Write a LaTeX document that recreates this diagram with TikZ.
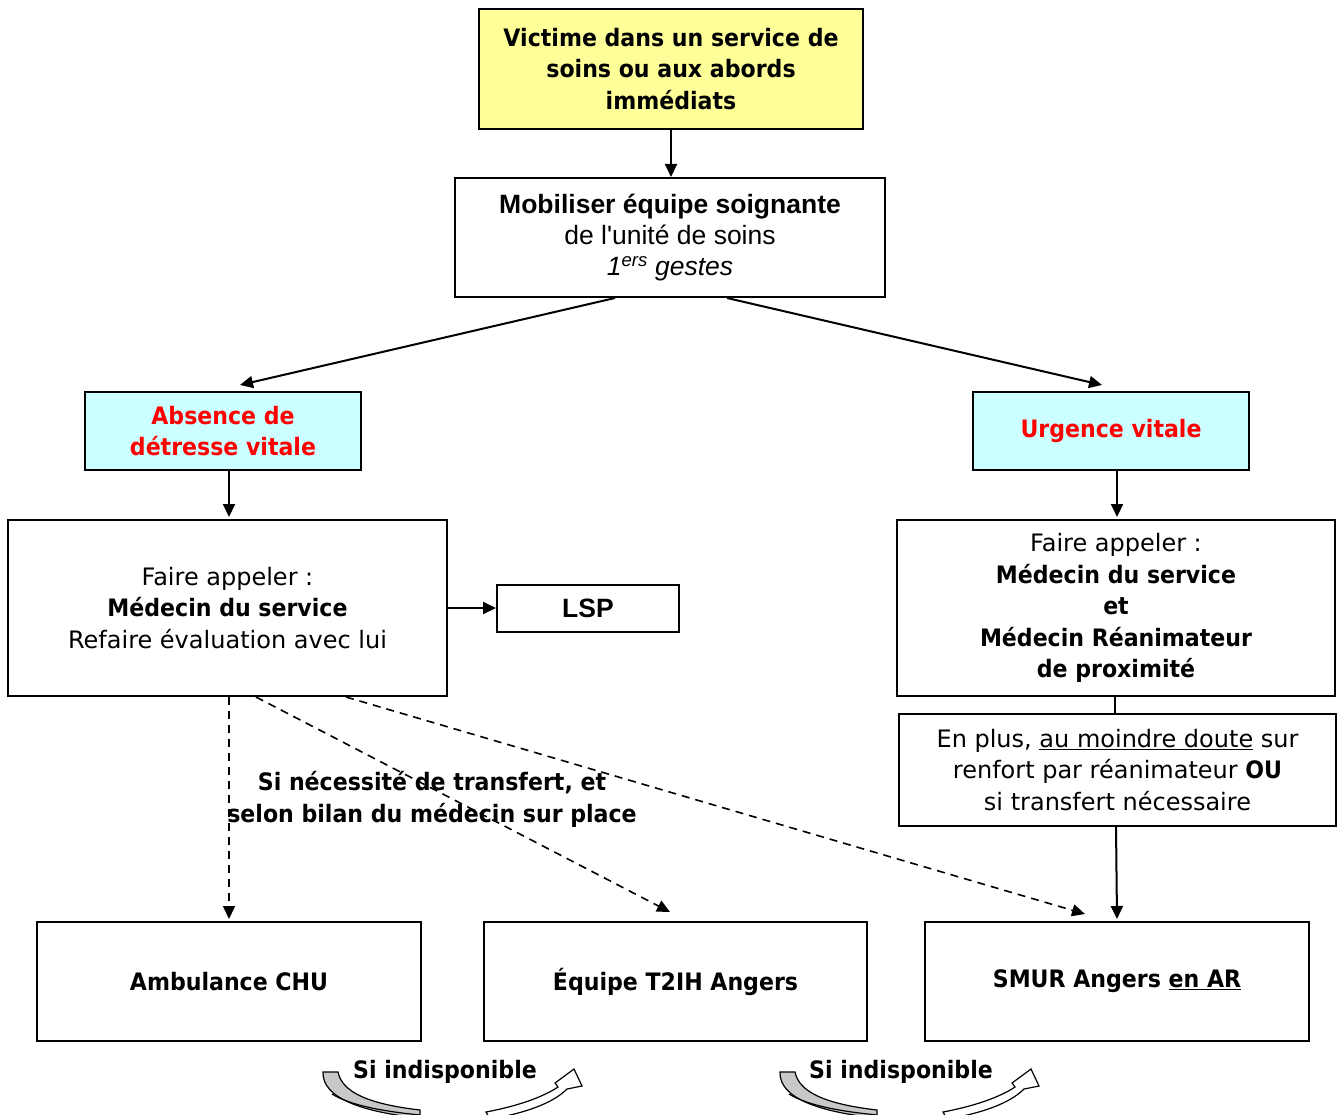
\documentclass[tikz,border=0pt]{standalone}
\usepackage{fontspec}
\setmainfont{DejaVu Sans}[BoldFeatures={FakeStretch=0.92}]
\newfontfamily\arialfont{Liberation Sans}
\usetikzlibrary{arrows.meta}

\definecolor{boxyellow}{HTML}{FFFF99}
\definecolor{boxcyan}{HTML}{CCFFFF}
\definecolor{bandgray}{HTML}{C8C8C8}
\newcommand{\txtfont}{\fontsize{24}{31.5}\selectfont}
\newcommand{\arfont}{\arialfont\fontsize{26.5}{31}\selectfont}

% curved "si indisponible" arrow, shifted by #1
\newcommand{\detourarrow}[1]{%
\begin{scope}[xshift=#1]
\filldraw[fill=bandgray,line width=1.2pt] (323,1072) -- (338,1072) .. controls (342,1092) and (368,1104) .. (420,1110) -- (420,1118) .. controls (362,1112) and (322,1098) .. (323,1072) -- cycle;
\draw[line width=1.2pt] (332,1094) .. controls (350,1105) and (380,1111) .. (420,1115);
\filldraw[fill=white,line width=1.2pt] (486,1112) .. controls (518,1106) and (543,1097) .. (558,1087) -- (555,1083) -- (574,1069) -- (582,1086) -- (567,1089) .. controls (553,1103) and (526,1113) .. (490,1119) -- cycle;
\end{scope}}

\begin{document}
\begin{tikzpicture}[x=1pt,y=-1pt,line width=2pt,
  box/.style={draw,align=center,inner sep=0pt,font=\txtfont},
  arr/.style={-{Triangle[length=13pt,width=12pt]}},
  dasharr/.style={arr,line width=1.6pt,dash pattern=on 8pt off 6pt}]
\useasboundingbox (0,0) rectangle (1337,1115);

% top of the chart
\node[box,fill=boxyellow,minimum width=384pt,minimum height=120pt,font=\txtfont\bfseries] (victime) at (671,69) {Victime dans un service de\\soins ou aux abords\\immédiats};
\node[box,minimum width=430pt,minimum height=119pt,font=\arfont] (mobiliser) at (670,237.5) {\textbf{Mobiliser équipe soignante}\\de l'unité de soins\\\textit{1\textsuperscript{ers} gestes}};

% two branches
\node[box,fill=boxcyan,minimum width=276pt,minimum height=78pt,font=\txtfont\bfseries,text=red] (absence) at (223,431) {Absence de\\détresse vitale};
\node[box,fill=boxcyan,minimum width=276pt,minimum height=78pt,font=\txtfont\bfseries,text=red] (urgence) at (1111,431) {Urgence vitale};

\node[box,minimum width=439pt,minimum height=176pt] (appel1) at (227.5,608) {Faire appeler :\\\textbf{Médecin du service}\\Refaire évaluation avec lui};
\node[box,minimum width=182pt,minimum height=47pt,font=\arfont\bfseries] (lsp) at (588,608) {LSP};
\node[box,minimum width=438pt,minimum height=176pt] (appel2) at (1116,608) {Faire appeler :\\\textbf{Médecin du service}\\\textbf{et}\\\textbf{Médecin Réanimateur}\\\textbf{de proximité}};
\node[box,minimum width=437pt,minimum height=112pt] (enplus) at (1117.5,770) {En plus, \underline{au moindre doute} sur\\renfort par réanimateur \textbf{OU}\\si transfert nécessaire};

% transport
\node[box,minimum width=384pt,minimum height=119pt,font=\txtfont\bfseries] (ambulance) at (229,981.5) {Ambulance CHU};
\node[box,minimum width=383pt,minimum height=119pt,font=\txtfont\bfseries] (equipe) at (675.5,981.5) {Équipe T2IH Angers};
\node[box,minimum width=384pt,minimum height=119pt,font=\txtfont\bfseries] (smur) at (1117,981.5) {SMUR Angers \underline{en AR}};

\node[align=center,inner sep=0pt,font=\txtfont\bfseries] (transfert) at (432,799.5) {Si nécessité de transfert, et\\selon bilan du médecin sur place};
\node[inner sep=0pt,font=\txtfont\bfseries] (indispo1) at (445,1072) {Si indisponible};
\node[inner sep=0pt,font=\txtfont\bfseries] (indispo2) at (901,1072) {Si indisponible};

% connectors
\draw[arr] (victime.south) -- (victime.south |- mobiliser.north);
\draw[arr] ([xshift=-55pt]mobiliser.south) -- ([xshift=17pt,yshift=6pt]absence.north);
\draw[arr] ([xshift=57pt]mobiliser.south) -- ([xshift=-9pt,yshift=6pt]urgence.north);
\draw[arr] ([xshift=6pt]absence.south) -- ([xshift=1.5pt,yshift=2pt]appel1.north);
\draw[arr] ([xshift=6pt]urgence.south) -- ([xshift=6pt,yshift=2pt]urgence.south |- appel2.north);
\draw[arr] (appel1.east) -- (lsp.west);
\draw ([xshift=-1pt]appel2.south) -- ([xshift=-1pt]appel2.south |- enplus.north);
\draw[arr] ([xshift=-1.5pt]enplus.south) -- ([yshift=2pt]smur.north);

\draw[dasharr] ([xshift=1.5pt]appel1.south) -- ([yshift=2pt]ambulance.north);
\draw[dasharr] ([xshift=28.5pt]appel1.south) -- ([xshift=-5.5pt,yshift=9pt]equipe.north);
\draw[dasharr] ([xshift=118.5pt]appel1.south) -- ([xshift=-32pt,yshift=7pt]smur.north);

\detourarrow{0pt}
\detourarrow{457pt}
\end{tikzpicture}
\end{document}
